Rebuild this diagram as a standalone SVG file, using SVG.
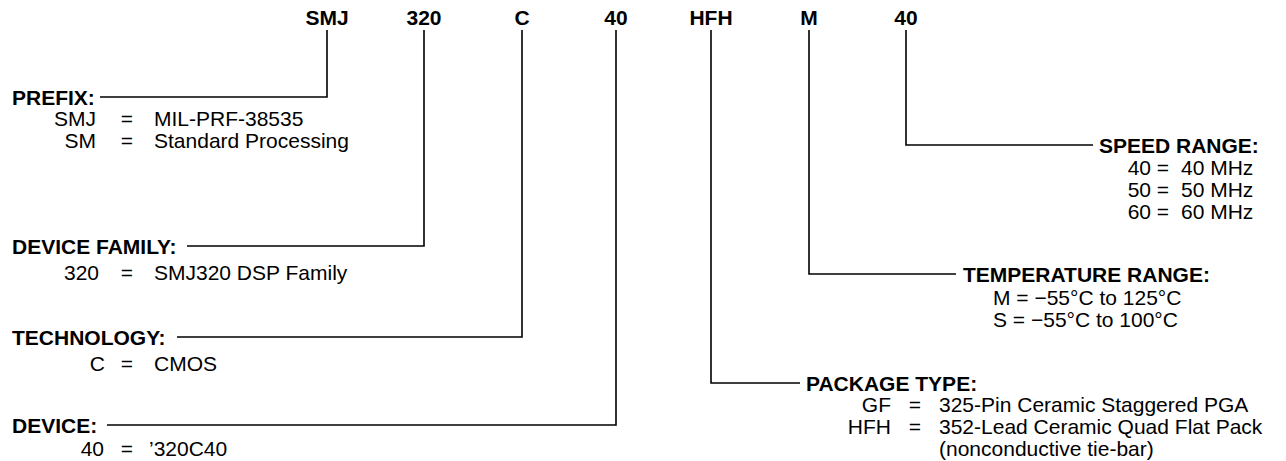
<svg xmlns="http://www.w3.org/2000/svg" width="1286" height="461" viewBox="0 0 1286 461">
<style>
text{font-family:"Liberation Sans",Arial,Helvetica,sans-serif;fill:#000;}
.code{font-size:21px;font-weight:bold;text-anchor:middle;}
.hd{font-size:21px;font-weight:bold;}
.t{font-size:21px;}
.e{font-size:21px;text-anchor:end;}
.m{font-size:21px;text-anchor:middle;}
.conn{fill:none;stroke:#000;stroke-width:1.6;}
</style>
<rect width="1286" height="461" fill="#fff"/>
<g id="connectors">
<polyline class="conn" points="327,30 327,97 100,97"/>
<polyline class="conn" points="424,30 424,246 187,246"/>
<polyline class="conn" points="522,30 522,337 177,337"/>
<polyline class="conn" points="616,30 616,425 107,425"/>
<polyline class="conn" points="711,30 711,383 800,383"/>
<polyline class="conn" points="809,30 809,274 956,274"/>
<polyline class="conn" points="906,30 906,145 1093,145"/>
</g>
<g id="code-smj"><text class="code" x="327" y="25">SMJ</text></g>
<g id="code-320"><text class="code" x="424" y="25">320</text></g>
<g id="code-c"><text class="code" x="522" y="25">C</text></g>
<g id="code-40"><text class="code" x="616" y="25">40</text></g>
<g id="code-hfh"><text class="code" x="711" y="25">HFH</text></g>
<g id="code-m"><text class="code" x="809" y="25">M</text></g>
<g id="code-40b"><text class="code" x="906" y="25">40</text></g>

<g id="prefix">
<text class="hd" x="12" y="104.5">PREFIX:</text>
<text class="e" x="96" y="126">SMJ</text><text class="m" x="127" y="126">=</text><text class="t" x="154" y="126">MIL-PRF-38535</text>
<text class="e" x="96" y="148">SM</text><text class="m" x="127" y="148">=</text><text class="t" x="154" y="148">Standard Processing</text>
</g>
<g id="device-family">
<text class="hd" x="12" y="253.5">DEVICE FAMILY:</text>
<text class="e" x="99" y="280">320</text><text class="m" x="127" y="280">=</text><text class="t" x="154" y="280">SMJ320 DSP Family</text>
</g>
<g id="technology">
<text class="hd" x="12" y="344.5">TECHNOLOGY:</text>
<text class="e" x="105" y="371">C</text><text class="m" x="127" y="371">=</text><text class="t" x="154" y="371">CMOS</text>
</g>
<g id="device">
<text class="hd" x="12" y="432.5">DEVICE:</text>
<text class="e" x="104" y="456">40</text><text class="m" x="127" y="456">=</text><text class="t" x="149" y="456">’320C40</text>
</g>
<g id="speed-range">
<text class="hd" x="1099" y="152.5">SPEED RANGE:</text>
<text class="e" x="1151" y="175">40</text><text class="m" x="1163" y="175">=</text><text class="t" x="1181" y="175">40 MHz</text>
<text class="e" x="1151" y="197">50</text><text class="m" x="1163" y="197">=</text><text class="t" x="1181" y="197">50 MHz</text>
<text class="e" x="1151" y="219">60</text><text class="m" x="1163" y="219">=</text><text class="t" x="1181" y="219">60 MHz</text>
</g>
<g id="temperature-range">
<text class="hd" x="963" y="281.5">TEMPERATURE RANGE:</text>
<text class="t" x="993" y="305">M = −55°C to 125°C</text>
<text class="t" x="993" y="327">S = −55°C to 100°C</text>
</g>
<g id="package-type">
<text class="hd" x="806" y="390.5">PACKAGE TYPE:</text>
<text class="e" x="891" y="412">GF</text><text class="m" x="915" y="412">=</text><text class="t" x="939" y="412">325-Pin Ceramic Staggered PGA</text>
<text class="e" x="891" y="434">HFH</text><text class="m" x="915" y="434">=</text><text class="t" x="939" y="434">352-Lead Ceramic Quad Flat Pack</text>
<text class="t" x="939" y="456">(nonconductive tie-bar)</text>
</g>
</svg>
